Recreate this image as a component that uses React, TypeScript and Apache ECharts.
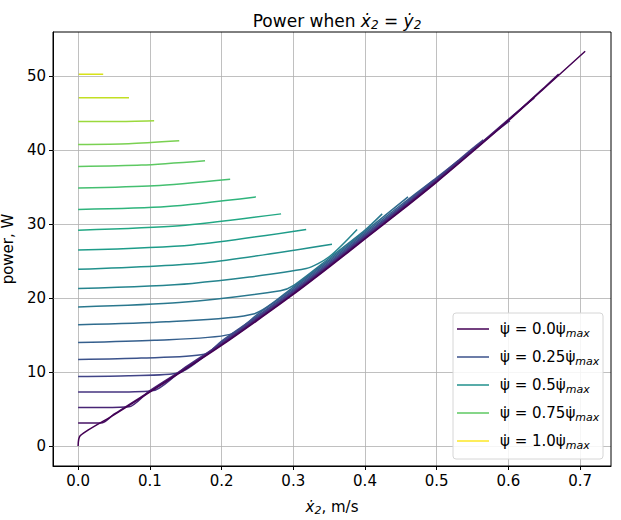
import React, { useEffect, useRef } from "react";
import * as echarts from "echarts";

const startY = [0, 3.1, 5.2, 7.3, 9.4, 11.7, 14.0, 16.4, 18.8, 21.3, 23.9, 26.5, 29.2, 32.0, 34.9, 37.8, 40.8, 43.9, 47.1, 50.3];
const midY = [0.7, 3.1, 5.2, 7.3, 9.5, 11.9, 14.3, 16.8, 19.4, 22.0, 24.8, 27.2, 29.8, 32.4, 35.2, 38.0, 40.9, 43.9, 47.1, 50.3];
const kneeX = [0.003, 0.034, 0.071, 0.105, 0.141, 0.176, 0.212, 0.246, 0.282, 0.318, 0.354, 0.318, 0.283, 0.248, 0.212, 0.177, 0.141, 0.106, 0.071, 0.035];
const kneeY = [1.4, 3.15, 5.3, 7.5, 9.9, 12.4, 15.1, 17.9, 21.0, 24.0, 27.3, 29.3, 31.4, 33.7, 36.1, 38.6, 41.3, 44.0, 47.1, 50.3];
const endX = [0.707, 0.67, 0.636, 0.602, 0.565, 0.53, 0.496, 0.46, 0.424, 0.389];
const endY = [53.4, 50.3, 47.1, 44.0, 41.4, 38.6, 36.0, 33.7, 31.4, 29.3];
const envX = [0.05, 0.1, 0.15, 0.2, 0.25, 0.3, 0.35, 0.4, 0.45, 0.5, 0.55, 0.6, 0.65];
const envBase = [4.2, 7.3, 10.4, 13.6, 17.0, 20.5, 24.2, 28.0, 31.8, 35.7, 39.8, 44.0, 48.4];
const envShift = [0, 0.1, 0.2, 0.3, 0.45, 0.6, 0.8, 1.0, 1.2, 1.4];
const colors = ["#440154", "#471365", "#482475", "#463480", "#414487", "#3b528b", "#355f8d", "#2f6c8e", "#2a788e", "#25848e", "#21918c", "#1e9c89", "#22a884", "#2fb47c", "#44bf70", "#5ec962", "#7ad151", "#9bd93c", "#c2df23", "#d8e219"];
const legendLabels = ["0.0", "0.25", "0.5", "0.75", "1.0"];
const legendColors = ["#440154", "#3b528b", "#21918c", "#5ec962", "#fde725"];
const xTicks = [0, 0.1, 0.2, 0.3, 0.4, 0.5, 0.6, 0.7];
const yTicks = [0, 10, 20, 30, 40, 50];

const FONT = "DejaVu Sans";

export default function App() {
  const ref = useRef<HTMLDivElement>(null);
  useEffect(() => {
    const chart = echarts.init(ref.current!, null, { renderer: "svg" });
    const series: any[] = startY.map((s, k) => {
      const pts: number[][] = [[0, s]];
      if (k > 0) pts.push([kneeX[k] / 2, midY[k]]);
      pts.push([kneeX[k], kneeY[k]]);
      if (k < endX.length) {
        envX.forEach((x, i) => {
          if (x > kneeX[k] + 0.01 && x < endX[k] - 0.01) pts.push([x, envBase[i] + envShift[k]]);
        });
        pts.push([endX[k], endY[k]]);
      }
      return {
        type: "line", data: pts, showSymbol: false, symbol: "none", z: 3 + (19 - k),
        lineStyle: { color: colors[k], width: 1.5 }, smooth: 0.25, silent: true,
      };
    });
    series.push({
      type: "line", data: [], z: 1, silent: true,
      markLine: {
        silent: true, symbol: "none", label: { show: false }, animation: false,
        lineStyle: { color: "#b0b0b0", width: 0.8, type: "solid" },
        data: [...xTicks.map((v) => ({ xAxis: v })), ...yTicks.map((v) => ({ yAxis: v }))],
      },
    });
    const legendChildren: any[] = [
      { type: "rect", shape: { x: 453, y: 313, width: 150, height: 146, r: 3 }, style: { fill: "rgba(255,255,255,0.85)", stroke: "#d6d6d6", lineWidth: 1 }, z: 50 },
    ];
    legendLabels.forEach((l, i) => {
      const y = 329 + i * 28;
      legendChildren.push({ type: "line", shape: { x1: 457, y1: y, x2: 489, y2: y }, style: { stroke: legendColors[i], lineWidth: 1.5 }, z: 51 });
      legendChildren.push({
        type: "text", x: 500, y, z: 51,
        style: {
          text: `{a|ψ̇ = ${l}ψ̇}{s|max}`, verticalAlign: "middle", fontFamily: FONT,
          rich: { a: { fontSize: 15, fontFamily: FONT, fill: "#000" }, s: { fontSize: 11, fontStyle: "italic", fontFamily: FONT, fill: "#000", padding: [8, 0, 0, 0] } },
        },
      });
    });
    chart.setOption({
      animation: false,
      grid: { left: 53, right: 10, top: 32, bottom: 54, containLabel: false, outerBoundsMode: "none" },
      title: {
        text: "Power when {i|x\u0307}{s|2}{n| = }{i|y\u0307}{s|2}", left: 332, textAlign: "center", top: 6,
        textStyle: {
          fontFamily: FONT, fontSize: 17, fontWeight: "normal", color: "#000",
          rich: {
            i: { fontSize: 17, fontStyle: "italic", fontFamily: FONT },
            n: { fontSize: 17, fontFamily: FONT },
            s: { fontSize: 12, fontStyle: "italic", fontFamily: FONT, padding: [8, 0, 0, 0] },
          },
        },
      },
      xAxis: {
        type: "value", min: -0.035, max: 0.743,
        name: "{i|x\u0307}{s|2}{n|, m/s}", nameLocation: "middle", nameGap: 32,
        nameTextStyle: { fontFamily: FONT, fontSize: 15, color: "#000", rich: { i: { fontSize: 15, fontStyle: "italic", fontFamily: FONT }, n: { fontSize: 15, fontFamily: FONT }, s: { fontSize: 11, fontStyle: "italic", fontFamily: FONT, padding: [7, 0, 0, 0] } } },
        axisLine: { show: true, onZero: false, lineStyle: { color: "#000", width: 1 } },
        axisTick: { show: true, length: 4, customValues: xTicks, lineStyle: { color: "#000" } },
        axisLabel: { customValues: xTicks, fontFamily: FONT, fontSize: 15, color: "#000", margin: 7, formatter: (v: number) => v.toFixed(1) },
        splitLine: { show: false },
      },
      yAxis: {
        type: "value", min: -2.7, max: 56,
        name: "power, W", nameLocation: "middle", nameGap: 38,
        nameTextStyle: { fontFamily: FONT, fontSize: 15, color: "#000" },
        axisLine: { show: true, onZero: false, lineStyle: { color: "#000", width: 1 } },
        axisTick: { show: true, length: 4, customValues: yTicks, lineStyle: { color: "#000" } },
        axisLabel: { customValues: yTicks, fontFamily: FONT, fontSize: 15, color: "#000", margin: 7 },
        splitLine: { show: false },
      },
      graphic: [
        { type: "rect", shape: { x: 53, y: 32, width: 558, height: 434 }, style: { fill: "none", stroke: "#000", lineWidth: 1 }, z: 40, silent: true },
        { type: "group", children: legendChildren },
      ],
      series,
    });
    return () => chart.dispose();
  }, []);
  return <div ref={ref} style={{ position: "fixed", left: 0, top: 0, width: 621, height: 520, background: "#fff" }} />;
}
